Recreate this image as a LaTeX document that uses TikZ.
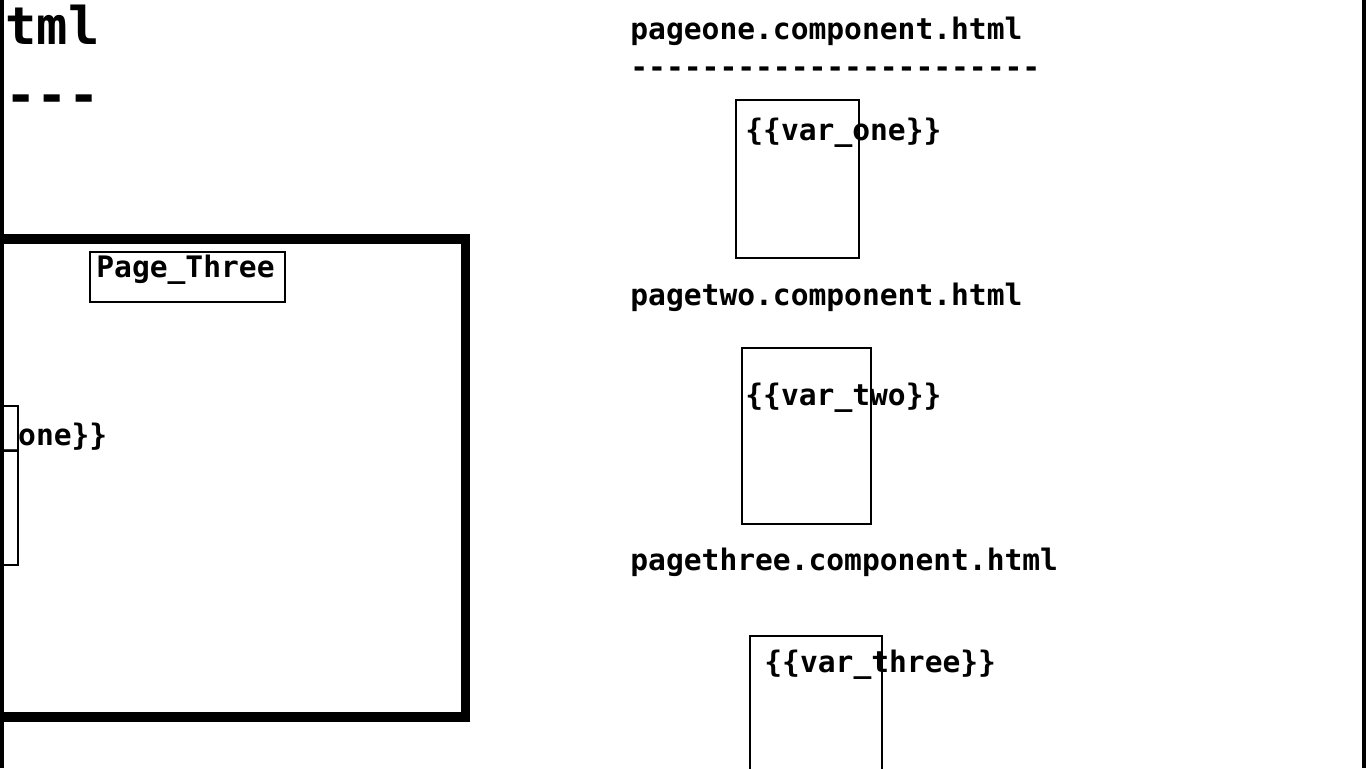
\documentclass[tikz,border=0pt]{standalone}
\usepackage{fontspec}
\setmonofont{DejaVu Sans Mono}
\usetikzlibrary{positioning}
\tikzset{code/.style = {anchor = base west, inner sep = 0,
                        font = \ttfamily\bfseries\fontsize{14.8}{18}\selectfont}}
\tikzset{bigcode/.style = {code, font = \ttfamily\bfseries\fontsize{26}{30}\selectfont}}
\tikzset{pane/.style = {draw, line width = 0.8pt, inner sep = 0, anchor = north west}}

\begin{document}
\begin{tikzpicture}[x = 0.5pt, y = -0.5pt]
      \fill [white] (0, 0) rectangle (1366, 768);
      \useasboundingbox (0, 0) rectangle (1366, 768);

      % left half: app.component.html, cut off
      \node (apptitle) [bigcode] at (5, 44) {tml};
      \node (appdash) [bigcode] at (5, 113) {---};
      \draw [line width = 4.75pt] (0, 239) -- (465.5, 239) -- (465.5, 717) -- (0, 717);
      \node (pagebox) [pane, minimum width = 97.5pt, minimum height = 25pt] at (89, 251) {};
      \node (pagelabel) [code] at (96, 277) {Page\_Three};
      \draw [line width = 0.8pt] (0, 406) -- (18, 406) -- (18, 565) -- (0, 565);
      \node (varcut) [code] at (0, 445) {\_one\}\}};

      % right half: the three components
      \node (oneTitle) [code] at (630, 39) {pageone.component.html};
      \node (oneDash) [code] at (630, 77) {-----------------------};
      \node (oneBox) [pane, minimum width = 61.5pt, minimum height = 79pt] at (735, 99) {};
      \node (oneVar) [code] at (745, 140) {\{\{var\_one\}\}};

      \node (twoTitle) [code] at (630, 305) {pagetwo.component.html};
      \node (twoBox) [pane, minimum width = 64.5pt, minimum height = 88pt] at (741, 347) {};
      \node (twoVar) [code] at (745, 405) {\{\{var\_two\}\}};

      \node (threeTitle) [code] at (630, 570) {pagethree.component.html};
      \node (threeBox) [pane, minimum width = 66pt, minimum height = 75pt] at (749, 635) {};
      \node (threeVar) [code] at (764, 672) {\{\{var\_three\}\}};

      % window edges
      \fill (0, 0) rectangle (3.5, 768);
      \fill (1362, 0) rectangle (1366, 768);
\end{tikzpicture}
\end{document}
